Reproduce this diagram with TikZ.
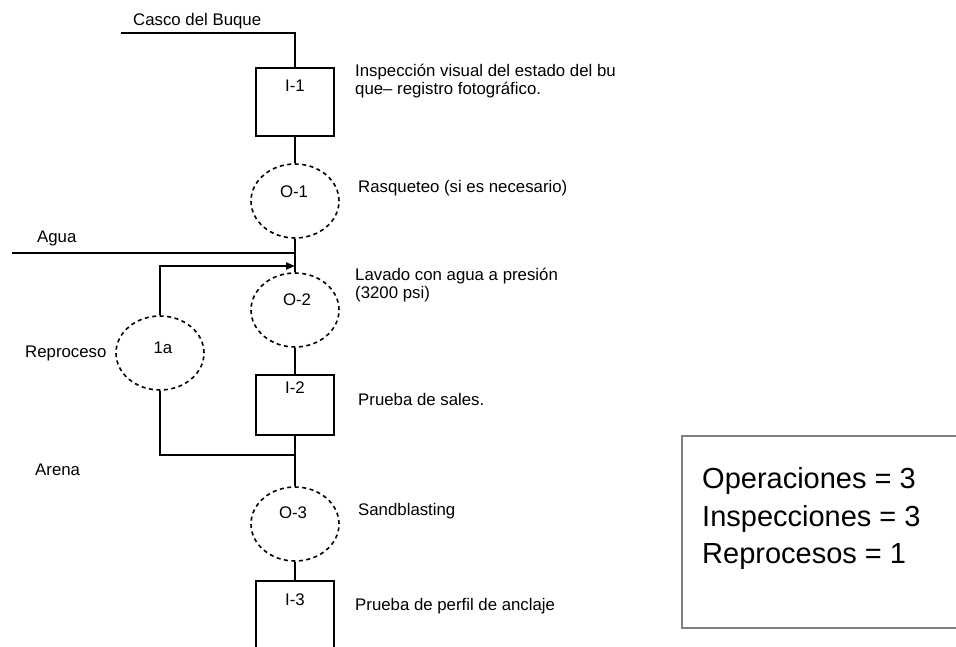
\documentclass[tikz,border=0pt]{standalone}
\usepackage{fontspec}
\setmainfont{Liberation Sans}
\usetikzlibrary{shapes.geometric,arrows.meta}
\tikzset{
  conn/.style={line width=2pt},
  stepbox/.style={draw, line width=2pt, minimum width=78pt, inner sep=0pt},
  opcirc/.style={ellipse, draw, line width=1.6pt, dash pattern=on 4pt off 3.5pt, minimum width=88pt, minimum height=74pt, inner sep=0pt},
  small/.style={font=\fontsize{16.8}{18}\selectfont, inner sep=0pt, anchor=base west, align=left},
  inlbl/.style={font=\fontsize{16.8}{18}\selectfont, inner sep=0pt, anchor=base},
  big/.style={font=\fontsize{29}{35}\selectfont, inner sep=0pt, anchor=base west}
}
\begin{document}
\begin{tikzpicture}[x=1pt,y=-1pt]
\useasboundingbox (0,0) rectangle (956,646);
\clip (0,0) rectangle (956,646);
% boxes and circles
\node[stepbox, minimum height=68pt] (i1) at (295,102) {};
\node[opcirc] (o1) at (295,201) {};
\node[opcirc] (o2) at (295,310) {};
\node[stepbox, minimum height=60pt] (i2) at (295,405) {};
\node[opcirc] (r1) at (160,353) {};
\node[opcirc] (o3) at (295,524) {};
\node[stepbox, minimum height=120pt] (i3) at (295,641) {};
% inner labels
\node[inlbl] (li1) at (295,91) {I-1};
\node[inlbl] (lo1) at (294,197) {O-1};
\node[inlbl] (lo2) at (297,305) {O-2};
\node[inlbl] (lr1) at (163,353) {1a};
\node[inlbl] (li2) at (295,393) {I-2};
\node[inlbl] (lo3) at (293,518) {O-3};
\node[inlbl] (li3) at (295,605) {I-3};
% texts
\node[small] (tcasco) at (133,25) {Casco del Buque};
\node[small] (ti1) at (355,94) {Inspección visual del estado del bu\\que– registro fotográfico.};
\node[small] (to1) at (358,192) {Rasqueteo (si es necesario)};
\node[small] (tagua) at (37,242) {Agua};
\node[small] (to2) at (355,298) {Lavado con agua a presión\\(3200 psi)};
\node[small] (trep) at (25,357) {Reproceso};
\node[small] (ti2) at (358,405) {Prueba de sales.};
\node[small] (tarena) at (35,475) {Arena};
\node[small] (to3) at (358,515) {Sandblasting};
\node[small] (ti3) at (355,610) {Prueba de perfil de anclaje};
% connectors
\coordinate (cascoL) at (121,33);
\coordinate (aguaL) at (12,253);
\coordinate (arrEnd) at (295,266);
\coordinate (join) at (295,455);
\draw[conn] (cascoL) -- (cascoL -| i1.north) -- (i1.north);
\draw[conn] (i1.south) -- (o1.north);
\draw[conn] (o1.south) -- (o2.north);
\draw[conn] (aguaL) -- (aguaL -| o2.north);
\draw[conn, -{Triangle[length=9pt,width=7pt]}] (r1.north) -- (r1.north |- arrEnd) -- (arrEnd);
\draw[conn] (o2.south) -- (i2.north);
\draw[conn] (r1.south) -- (r1.south |- join) -- (join);
\draw[conn] (i2.south) -- (o3.north);
\draw[conn] (o3.south) -- (i3.north);
% legend
\node[draw=black!50, line width=1.5pt, minimum width=285pt, minimum height=192pt, anchor=north west, inner sep=0pt] (legend) at (681,435) {};
\node[big] (lg1) at (702,488) {Operaciones = 3};
\node[big] (lg2) at (702,526) {Inspecciones = 3};
\node[big] (lg3) at (702,563) {Reprocesos = 1};
\end{tikzpicture}
\end{document}
